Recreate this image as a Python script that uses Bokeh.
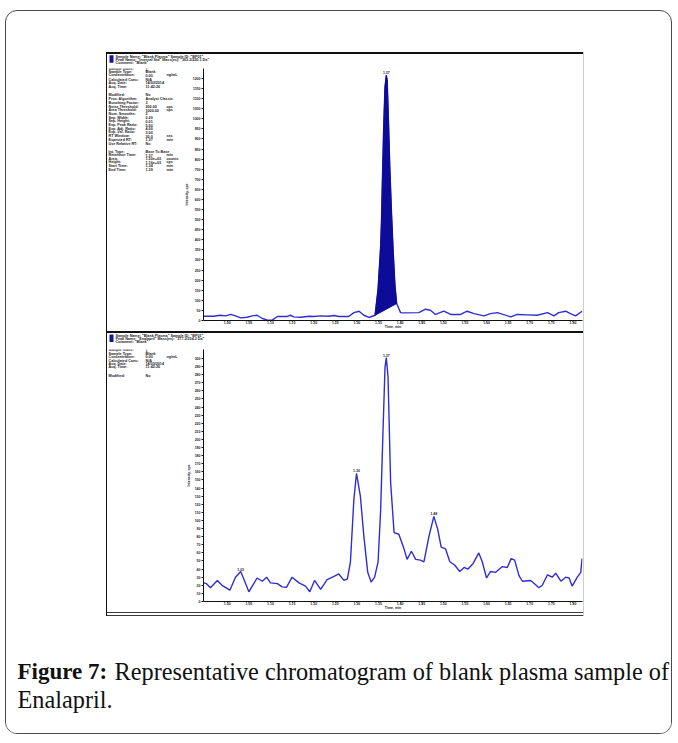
from bokeh.plotting import figure
from bokeh.layouts import column, row
from bokeh.models import Spacer, Range1d, FixedTicker, Label, PrintfTickFormatter
from bokeh.core.properties import value
from bokeh.embed import file_html
from bokeh.resources import INLINE

# ---------------- chromatogram data (time in min, intensity in cps) ----------------
top_time = [0.946, 0.969, 0.984, 0.996, 1.008, 1.019, 1.031, 1.046, 1.058, 1.069,
            1.081, 1.092, 1.104, 1.116, 1.139, 1.146, 1.154, 1.170, 1.189, 1.200,
            1.216, 1.235, 1.247, 1.258, 1.281, 1.293, 1.305, 1.316, 1.328, 1.342,
            1.349, 1.355, 1.357, 1.359, 1.362, 1.365, 1.368, 1.370, 1.373, 1.376,
            1.380, 1.384, 1.388, 1.392, 1.401, 1.405, 1.443, 1.459, 1.470, 1.482,
            1.501, 1.517, 1.540, 1.555, 1.571, 1.594, 1.609, 1.625, 1.656, 1.671,
            1.694, 1.717, 1.741, 1.756, 1.767, 1.783, 1.794, 1.806, 1.821]
top_intensity = [21, 21, 26, 23, 30, 23, 13, 16, 23, 26,
                 10, 3, 2, 20, 20, 26, 18, 16, 21, 20,
                 23, 21, 25, 20, 20, 39, 46, 26, 15, 26,
                 157, 370, 502, 698, 961, 1157, 1215, 1190, 993, 764,
                 534, 338, 174, 84, 39, 38, 39, 56, 51, 30,
                 46, 30, 30, 46, 34, 23, 34, 39, 18, 30,
                 28, 26, 39, 23, 39, 46, 34, 23, 46]
# integrated peak window of the upper trace
top_peak_start = 1.342
top_peak_end = 1.392

bottom_time = [0.946, 0.952, 0.961, 0.977, 0.988, 1.006, 1.019, 1.031, 1.038, 1.050,
               1.069, 1.081, 1.091, 1.100, 1.116, 1.127, 1.137, 1.150, 1.166, 1.181,
               1.191, 1.202, 1.216, 1.231, 1.247, 1.258, 1.270, 1.278, 1.285, 1.293,
               1.299, 1.308, 1.316, 1.325, 1.333, 1.341, 1.349, 1.355, 1.360, 1.365,
               1.368, 1.372, 1.378, 1.386, 1.397, 1.409, 1.416, 1.426, 1.436, 1.447,
               1.455, 1.467, 1.478, 1.487, 1.495, 1.505, 1.515, 1.526, 1.538, 1.548,
               1.557, 1.569, 1.582, 1.590, 1.600, 1.609, 1.621, 1.636, 1.648, 1.657,
               1.665, 1.675, 1.683, 1.702, 1.711, 1.721, 1.729, 1.741, 1.752, 1.760,
               1.772, 1.783, 1.791, 1.798, 1.810, 1.818, 1.821]
bottom_intensity = [23, 22, 17, 26, 20, 14, 30, 37, 28, 12,
                    29, 25, 30, 23, 22, 18, 17.5, 30, 23, 19,
                    12, 26, 15, 27, 31, 34, 26, 28, 49, 126,
                    158, 130, 81, 36, 24, 30, 49, 114, 204, 289,
                    301, 277, 147, 85, 83, 65, 52, 62, 52, 51,
                    49, 81, 105, 89, 67, 65, 49, 45, 37, 42,
                    40, 47, 60, 49, 29, 37, 36, 43, 42, 53,
                    51, 32, 25, 26, 22, 17, 20, 33, 30, 35,
                    25, 30, 29, 19, 30, 36, 53]
bottom_peak_times = [1.031, 1.299, 1.368, 1.478]

x_ticks = [1.00, 1.05, 1.10, 1.15, 1.20, 1.25, 1.30, 1.35, 1.40,
           1.45, 1.50, 1.55, 1.60, 1.65, 1.70, 1.75, 1.80]
top_y_ticks = [0, 50, 100, 150, 200, 250, 300, 350, 400, 450, 500, 550, 600,
               650, 700, 750, 800, 850, 900, 950, 1000, 1050, 1100, 1150, 1200]
bottom_y_ticks = [0, 10, 20, 30, 40, 50, 60, 70, 80, 90, 100, 110, 120, 130, 140,
                  150, 160, 170, 180, 190, 200, 210, 220, 230, 240, 250, 260, 270,
                  280, 290, 300]

TRACE = "#2e2ed4"
FILL = "#0c0c98"
INK = "#1c1c1c"
SANS = "Liberation Sans"

# ---------------- integration results of the upper peak ----------------
idx = [i for i, t in enumerate(top_time) if top_peak_start <= t <= top_peak_end]
peak_t = [top_time[i] for i in idx]
peak_y = [top_intensity[i] for i in idx]
apex = max(range(len(peak_y)), key=lambda k: peak_y[k])
rt = peak_t[apex]
base_at_apex = peak_y[0] + (peak_y[-1] - peak_y[0]) * (rt - peak_t[0]) / (peak_t[-1] - peak_t[0])
height = peak_y[apex] - base_at_apex
area = 0.0
for k in range(len(peak_t)):
    x0, y0 = peak_t[k] * 60, peak_y[k]
    x1, y1 = peak_t[(k + 1) % len(peak_t)] * 60, peak_y[(k + 1) % len(peak_t)]
    area += x0 * y1 - x1 * y0
area = abs(area) / 2

PANEL_LEFT, PANEL_RIGHT = 107, 583   # page x span of a panel
INFO_W = 72                          # width of the notes column
NOTE_SIZE = "3.7px"


def chrom_figure(height_px, y_end, y_ticks, border_top, border_bottom):
    p = figure(width=PANEL_RIGHT - PANEL_LEFT - INFO_W, height=height_px,
               x_range=Range1d(0.945, 1.822), y_range=Range1d(0, y_end),
               output_backend="svg", toolbar_location=None,
               min_border_left=24, min_border_right=1,
               min_border_top=border_top, min_border_bottom=border_bottom,
               x_axis_label="Time, min", y_axis_label="Intensity, cps",
               background_fill_color="white", border_fill_color="white")
    p.grid.visible = False
    p.outline_line_color = None
    xa, ya = p.xaxis[0], p.yaxis[0]
    xa.ticker = FixedTicker(ticks=x_ticks)
    xa.formatter = PrintfTickFormatter(format="%.2f")
    ya.ticker = FixedTicker(ticks=y_ticks)
    for ax in (xa, ya):
        ax.axis_line_color = "#111111"
        ax.major_tick_line_color = "#111111"
        ax.major_tick_out = 2
        ax.major_tick_in = 0
        ax.minor_tick_line_color = None
        ax.major_label_text_font = SANS
        ax.major_label_text_font_size = "3.5px"
        ax.major_label_text_font_style = "bold"
        ax.major_label_text_color = INK
        ax.major_label_standoff = 1
        ax.axis_label_text_font = SANS
        ax.axis_label_text_font_size = "3.5px"
        ax.axis_label_text_font_style = "bold"
        ax.axis_label_text_color = INK
        ax.axis_label_standoff = 1
    # keep the time axis block compact under the trace
    xa.major_tick_out = 1
    xa.major_label_standoff = -1
    xa.axis_label_standoff = -2
    return p


def text_figure(width, top, bottom, left):
    """Blank canvas addressed in page pixels, used for the printed notes."""
    p = figure(width=width, height=bottom - top,
               x_range=Range1d(left, left + width), y_range=Range1d(bottom, top),
               output_backend="svg", toolbar_location=None, min_border=0,
               x_axis_type=None, y_axis_type=None,
               background_fill_color="white", border_fill_color="white")
    p.outline_line_color = None
    return p


def note(p, x, y, txt):
    p.text(x=[x], y=[y], text=[txt], text_font=value(SANS), text_font_size=NOTE_SIZE,
           text_font_style="bold", text_color=INK, text_baseline="middle")


def header_figure(top, bottom, lines, lines_y):
    p = text_figure(PANEL_RIGHT - PANEL_LEFT, top, bottom, PANEL_LEFT)
    p.quad(left=[109], right=[113], top=[lines_y[0] - 1.5], bottom=[lines_y[0] + 6],
           fill_color="#16169a", line_color=None)
    for txt, y in zip(lines, lines_y):
        note(p, 115, y, txt)
    return p


def info_figure(top, bottom, rows, rows_y):
    p = text_figure(INFO_W, top, bottom, PANEL_LEFT)
    for (name, val, unit), y in zip(rows, rows_y):
        for txt, x in ((name, 108), (val, 145), (unit, 166)):
            if txt:
                note(p, x, y, txt)
    return p


def peak_label(p, t, y):
    p.add_layout(Label(x=t, y=y, text="%.2f" % t, y_offset=1,
                       text_font=SANS, text_font_size="3.5px",
                       text_font_style="bold", text_color=INK,
                       text_align="center", text_baseline="bottom"))


# ---------------- upper chromatogram ----------------
top = chrom_figure(265, 1249, top_y_ticks, 2, 9)
top.line(top_time, top_intensity, line_color=TRACE, line_width=1.4)
top.patch(peak_t, peak_y, fill_color=FILL, line_color=FILL, line_width=1)
peak_label(top, rt, peak_y[apex])

top_header = ['Sample Name: "Blank Plasma"  Sample ID: "BP01"',
              'Peak Name: "Internal Std"  Mass(es): "363.2/220.1 Da"',
              'Comment: "Blank"']
top_rows = [
    ("Sample Index:", "1", ""), ("Sample Type:", "Blank", ""),
    ("Concentration:", "0.00", "ng/mL"), ("Calculated Conc:", "N/A", ""),
    ("Acq. Date:", "14/03/2014", ""), ("Acq. Time:", "11:42:26", ""),
    ("Modified:", "No", ""), ("Proc. Algorithm:", "Analyst Classic", ""),
    ("Bunching Factor:", "3", ""), ("Noise Threshold:", "200.00", "cps"),
    ("Area Threshold:", "1000.00", "cps"), ("Num. Smooths:", "3", ""),
    ("Sep. Width:", "0.20", ""), ("Sep. Height:", "0.01", ""),
    ("Exp. Peak Ratio:", "5.00", ""), ("Exp. Adj. Ratio:", "4.00", ""),
    ("Exp. Val. Ratio:", "3.00", ""), ("RT Window:", "30.0", "sec"),
    ("Expected RT:", "%.2f" % rt, "min"), ("Use Relative RT:", "No", ""),
    ("Int. Type:", "Base To Base", ""), ("Retention Time:", "%.2f" % rt, "min"),
    ("Area:", "%.2e" % area, "counts"), ("Height:", "%.2e" % height, "cps"),
    ("Start Time:", "%.2f" % peak_t[0], "min"), ("End Time:", "%.2f" % peak_t[-1], "min"),
]
top_rows_y = ([66.8, 70.0, 73.3, 77.6, 81.4, 85.8]
              + [94.3 + 3.9 * k for k in range(14)]
              + [153.3 + 3.8 * k for k in range(6)])
top_head = header_figure(54, 66, top_header, [56.2, 59.4, 62.6])
top_info = info_figure(66, 331, top_rows, top_rows_y)

# ---------------- lower chromatogram ----------------
bottom = chrom_figure(267, 311, bottom_y_ticks, 4, 9)
bottom.line(bottom_time, bottom_intensity, line_color=TRACE, line_width=1.4)
for t in bottom_peak_times:
    peak_label(bottom, t, bottom_intensity[bottom_time.index(t)])

bottom_header = ['Sample Name: "Blank Plasma"  Sample ID: "BP01"',
                 'Peak Name: "Enalapril"  Mass(es): "377.2/234.2 Da"',
                 'Comment: "Blank"']
bottom_rows = [
    ("Sample Index:", "1", ""), ("Sample Type:", "Blank", ""),
    ("Concentration:", "0.00", "ng/mL"), ("Calculated Conc:", "N/A", ""),
    ("Acq. Date:", "14/03/2014", ""), ("Acq. Time:", "11:42:26", ""),
    ("Modified:", "No", ""),
]
bottom_rows_y = [346.0, 349.3, 352.6, 357.3, 360.7, 364.0, 372.7]
bottom_head = header_figure(333, 345, bottom_header, [335.4, 338.6, 341.8])
bottom_info = info_figure(345, 612, bottom_rows, bottom_rows_y)

# ---------------- caption ----------------
cap = figure(width=665, height=117, x_range=Range1d(0, 665), y_range=Range1d(117, 0),
             output_backend="svg", toolbar_location=None, min_border=0,
             x_axis_type=None, y_axis_type=None)
cap.outline_line_color = None
SERIF = value("Liberation Serif")
cap.text(x=[11], y=[55], text=["Figure 7:"], text_font=SERIF, text_font_style="bold",
         text_font_size="23px", text_color="#111111", text_baseline="alphabetic")
cap.text(x=[108], y=[55], text=["Representative chromatogram of blank plasma sample of"],
         text_font=SERIF, text_font_size="24.3px", text_color="#111111",
         text_baseline="alphabetic")
cap.text(x=[11], y=[83], text=["Enalapril."], text_font=SERIF,
         text_font_size="24.3px", text_color="#111111", text_baseline="alphabetic")


# ---------------- page assembly ----------------
def bar(w, h, color):
    return Spacer(width=w, height=h, styles={"background-color": color})


W = PANEL_RIGHT - PANEL_LEFT
panel = row(
    bar(1, 564, "#111111"),
    column(bar(W, 2, "#111111"),
           top_head, row(top_info, top),
           bar(W, 2, "#111111"),
           bottom_head, row(bottom_info, bottom),
           bar(W, 1, "#3a3a3a"), Spacer(width=W, height=2), bar(W, 1, "#3a3a3a")),
    bar(1, 564, "#cfcfcf"),
)
root = column(
    Spacer(width=665, height=41),
    row(Spacer(width=100, height=564), panel),
    cap,
    margin=(10, 0, 0, 5),
    styles={"border": "1px solid #4a4a4a", "border-radius": "12px", "overflow": "hidden"},
)

open("out.html", "w").write(file_html(root, INLINE))
